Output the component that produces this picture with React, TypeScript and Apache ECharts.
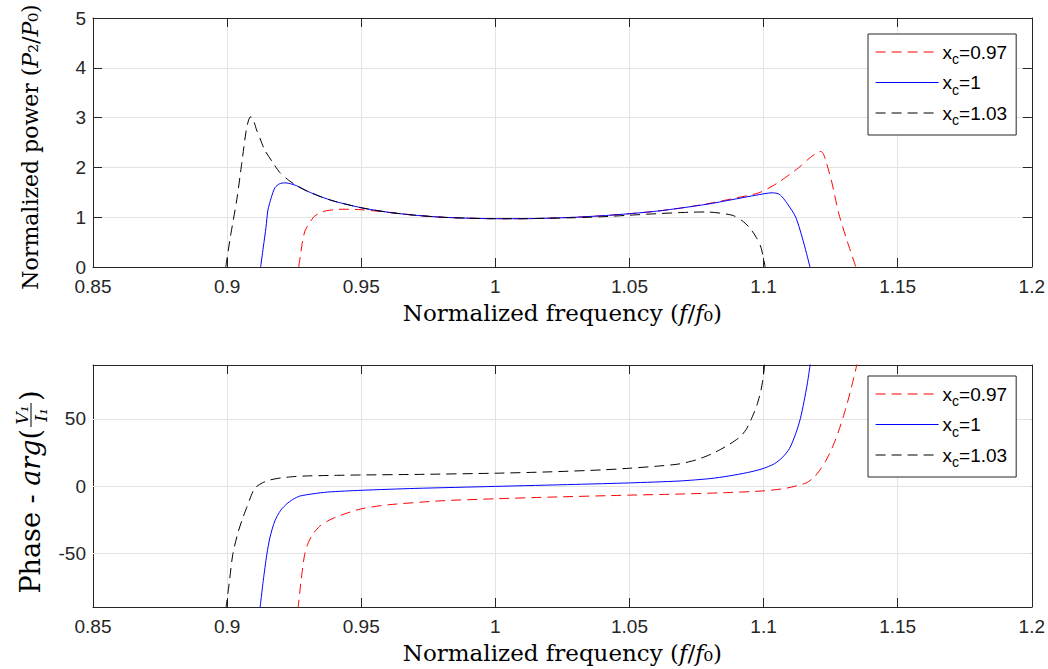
import React, { useEffect, useRef } from "react";
import * as echarts from "echarts";

// ---------- data ----------
const legendNames = ["xc=0.97", "xc=1", "xc=1.03"];
const legendLabels = ["x{sub|c}=0.97", "x{sub|c}=1", "x{sub|c}=1.03"];
const seriesColors = ["#ff0000", "#0000ff", "#000000"];
const seriesDashed = [true, false, true];
const xTicks = [0.85, 0.9, 0.95, 1, 1.05, 1.1, 1.15, 1.2];
const powerTicks = [0, 1, 2, 3, 4, 5];
const phaseTicks = [-50, 0, 50];

const power097 = [
  [0.9267, 0], [0.9275, 0.3], [0.9282, 0.54], [0.929, 0.72], [0.93, 0.82], [0.9315, 0.95],
  [0.9326, 1.02], [0.935, 1.1], [0.9371, 1.13], [0.94, 1.15], [0.9431, 1.16], [0.95, 1.15],
  [0.9632, 1.08], [0.97, 1.04], [0.98, 1.0], [0.99, 0.98], [1.0, 0.97], [1.01, 0.97],
  [1.02, 0.98], [1.03, 1.0], [1.04, 1.03], [1.05, 1.07], [1.06, 1.12], [1.07, 1.19],
  [1.08, 1.28], [1.09, 1.39], [1.0983, 1.49], [1.105, 1.68], [1.11, 1.87], [1.113, 1.99],
  [1.117, 2.18], [1.1195, 2.28], [1.1205, 2.31], [1.1214, 2.32], [1.1222, 2.28], [1.1233, 2.12],
  [1.1255, 1.69], [1.128, 1.08], [1.131, 0.55], [1.1344, 0],
];
const power100 = [
  [0.9125, 0], [0.9135, 0.4], [0.9145, 0.8], [0.9152, 1.14], [0.9165, 1.4], [0.9178, 1.59],
  [0.9195, 1.67], [0.9215, 1.69], [0.923, 1.68], [0.926, 1.63], [0.93, 1.52], [0.935, 1.41],
  [0.94, 1.32], [0.95, 1.19], [0.96, 1.1], [0.97, 1.04], [0.98, 1.0], [0.99, 0.98], [1.0, 0.97],
  [1.01, 0.97], [1.02, 0.98], [1.03, 1.0], [1.04, 1.03], [1.05, 1.07], [1.06, 1.12], [1.07, 1.19],
  [1.08, 1.27], [1.09, 1.37], [1.097, 1.44], [1.1032, 1.49], [1.1055, 1.47], [1.1069, 1.41],
  [1.109, 1.26], [1.112, 1.0], [1.115, 0.48], [1.1173, 0],
];
const power103 = [
  [0.8995, 0], [0.9012, 0.6], [0.9036, 1.35], [0.9055, 2.1], [0.907, 2.7], [0.908, 2.95],
  [0.9088, 3.02], [0.9098, 2.95], [0.911, 2.75], [0.9125, 2.55], [0.914, 2.35], [0.917, 2.1],
  [0.9196, 1.9], [0.923, 1.74], [0.926, 1.63], [0.93, 1.52], [0.935, 1.41], [0.94, 1.32],
  [0.95, 1.19], [0.96, 1.1], [0.97, 1.04], [0.98, 1.0], [0.99, 0.98], [1.0, 0.97], [1.01, 0.97],
  [1.02, 0.98], [1.03, 0.99], [1.04, 1.01], [1.05, 1.04], [1.06, 1.07], [1.07, 1.095],
  [1.0786, 1.105], [1.0883, 1.04], [1.092, 0.93], [1.0946, 0.8], [1.097, 0.62], [1.099, 0.4],
  [1.1006, 0],
];

const phase097 = [
  [0.9264, -92], [0.9276, -70], [0.9289, -51], [0.9303, -42], [0.9319, -36], [0.9345, -30],
  [0.9375, -26], [0.942, -22], [0.95, -17], [0.96, -14], [0.98, -11], [1.0, -9.5], [1.02, -8.3],
  [1.05, -6.8], [1.0685, -6], [1.085, -5], [1.0994, -3.7], [1.108, -1.8], [1.1158, 2.2],
  [1.1185, 6], [1.1207, 11], [1.123, 18], [1.1255, 28], [1.128, 41], [1.1307, 58], [1.1327, 73],
  [1.1344, 87], [1.135, 92],
];
const phase100 = [
  [0.9122, -92], [0.9135, -70], [0.9148, -51], [0.916, -38], [0.9178, -26], [0.92, -18],
  [0.9222, -13.4], [0.9245, -10], [0.9271, -7.5], [0.932, -5.8], [0.9375, -4.5], [0.95, -3.2],
  [0.97, -1.8], [1.0, -0.3], [1.03, 1.2], [1.05, 2.3], [1.0685, 3.7], [1.08, 5.5], [1.0872, 7.5],
  [1.094, 10], [1.0994, 12.7], [1.104, 16.5], [1.1069, 21], [1.1097, 28], [1.112, 39],
  [1.1137, 50], [1.1151, 63], [1.1163, 76], [1.1175, 92],
];
const phase103 = [
  [0.8995, -92], [0.9008, -72], [0.9021, -51], [0.904, -35], [0.9058, -24], [0.9073, -16],
  [0.909, -7], [0.9103, -1.5], [0.912, 1], [0.9133, 2.5], [0.916, 4.5], [0.92, 6], [0.925, 7],
  [0.93, 7.5], [0.94, 7.9], [0.95, 8.2], [0.97, 8.6], [1.0, 9.5], [1.02, 10.5], [1.04, 12],
  [1.05, 13.2], [1.06, 14.7], [1.0685, 16.4], [1.075, 19.5], [1.0808, 24], [1.086, 29.5],
  [1.0909, 36], [1.0935, 42], [1.0957, 51], [1.0975, 60], [1.099, 71], [1.0998, 80], [1.1005, 92],
];

// ---------- styling ----------
const AXIS = "#262626";
const GRIDC = "#e3e3e3";
const TICKFONT = "Liberation Sans";
const SERIF = "DejaVu Serif";
const DASH = [10, 6];

const fmtX = (v: number) => String(Math.round(v * 100) / 100);

function xAxes(gridIndex: number, nameGap: number) {
  return [
    {
      gridIndex, type: "value", min: 0.85, max: 1.2, interval: 0.05, position: "bottom",
      axisLine: { show: true, onZero: false, lineStyle: { color: AXIS, width: 1 } },
      axisTick: { show: true, inside: true, length: 9, lineStyle: { color: AXIS } },
      axisLabel: { formatter: fmtX, fontFamily: TICKFONT, fontSize: 19, color: AXIS, margin: 10 },
      splitLine: { show: true, lineStyle: { color: GRIDC, width: 1 } },
      name: "Normalized frequency ({i|f}/{i|f}₀)", nameLocation: "middle", nameGap,
      nameTextStyle: {
        fontFamily: SERIF, fontSize: 23, color: "#000",
        rich: { i: { fontStyle: "italic", fontFamily: SERIF, fontSize: 23, color: "#000" } },
      },
    },
    {
      gridIndex, type: "value", min: 0.85, max: 1.2, interval: 0.05, position: "top",
      axisLine: { show: true, onZero: false, lineStyle: { color: AXIS, width: 1 } },
      axisTick: { show: true, inside: true, length: 9, lineStyle: { color: AXIS } },
      axisLabel: { show: false }, splitLine: { show: false },
    },
  ];
}

function makeLegend(top: number, names: string[]) {
  return {
    orient: "vertical", left: 868, top, padding: [7, 9, 8, 7], itemWidth: 63, itemHeight: 15,
    itemGap: 5.5, backgroundColor: "#ffffff", borderColor: AXIS, borderWidth: 1, z: 10,
    data: names,
    itemStyle: { opacity: 0 },
    lineStyle: { width: 1.2 },
    formatter: (name: string) => legendLabels[names.indexOf(name)],
    textStyle: {
      fontFamily: TICKFONT, fontSize: 19, color: "#000", lineHeight: 22, padding: [0, 0, 0, -1],
      rich: { sub: { fontFamily: TICKFONT, fontSize: 14, color: "#000", padding: [14, 0, 0, 0] } },
    },
  };
}

function lineSeries(name: string, data: number[][], i: number, axisIdx: number) {
  const color = seriesColors[i];
  return {
    type: "line", name, data, xAxisIndex: axisIdx, yAxisIndex: axisIdx, showSymbol: false,
    symbol: "none", smooth: 0.25, z: 3, color,
    lineStyle: { color, width: 1, type: seriesDashed[i] ? DASH : "solid" },
    itemStyle: { color },
  };
}

const phaseNames = legendNames.map((n) => n + " ");

export default function App() {
  const ref = useRef<HTMLDivElement>(null);
  useEffect(() => {
    const chart = echarts.init(ref.current!, null, { renderer: "svg" });
    const option: any = {
      animation: false,
      backgroundColor: "#ffffff",
      grid: [
        { left: 93, top: 18, width: 940, height: 249 },
        { left: 93, top: 365, width: 940, height: 242 },
      ],
      xAxis: [...xAxes(0, 34), ...xAxes(1, 34)],
      yAxis: [
        {
          gridIndex: 0, type: "value", min: 0, max: 5, interval: 1, position: "left",
          axisLine: { show: true, onZero: false, lineStyle: { color: AXIS } },
          axisTick: { show: true, inside: true, length: 9, lineStyle: { color: AXIS } },
          axisLabel: { fontFamily: TICKFONT, fontSize: 19, color: AXIS, margin: 7 },
          splitLine: { show: true, lineStyle: { color: GRIDC } },
        },
        {
          gridIndex: 0, type: "value", min: 0, max: 5, interval: 1, position: "right",
          axisLine: { show: true, onZero: false, lineStyle: { color: AXIS } },
          axisTick: { show: true, inside: true, length: 9, lineStyle: { color: AXIS } },
          axisLabel: { show: false }, splitLine: { show: false },
        },
        {
          gridIndex: 1, type: "value", min: -90, max: 90, position: "left",
          axisLine: { show: true, onZero: false, lineStyle: { color: AXIS } },
          axisTick: { show: true, inside: true, length: 9, customValues: phaseTicks, lineStyle: { color: AXIS } },
          axisLabel: { fontFamily: TICKFONT, fontSize: 19, color: AXIS, margin: 7, customValues: phaseTicks },
          splitLine: { show: false },
        },
        {
          gridIndex: 1, type: "value", min: -90, max: 90, position: "right",
          axisLine: { show: true, onZero: false, lineStyle: { color: AXIS } },
          axisTick: { show: true, inside: true, length: 9, customValues: phaseTicks, lineStyle: { color: AXIS } },
          axisLabel: { show: false }, splitLine: { show: false },
        },
      ],
      legend: [makeLegend(34, legendNames), makeLegend(376, phaseNames)],
      series: [
        {
          type: "line", name: "phaseGrid", xAxisIndex: 2, yAxisIndex: 2, data: [[0.85, 0]],
          showSymbol: false, symbol: "none", z: 1, lineStyle: { opacity: 0 },
          markLine: {
            silent: true, symbol: "none", label: { show: false }, animation: false, z: 1,
            lineStyle: { color: GRIDC, type: "solid", width: 1 },
            data: phaseTicks.map((v) => ({ yAxis: v })),
          },
        },
        lineSeries(legendNames[0], power097, 0, 0),
        lineSeries(legendNames[1], power100, 1, 0),
        lineSeries(legendNames[2], power103, 2, 0),
        lineSeries(phaseNames[0], phase097, 0, 2),
        lineSeries(phaseNames[1], phase100, 1, 2),
        lineSeries(phaseNames[2], phase103, 2, 2),
      ],
      graphic: [
        {
          type: "text", x: 30, y: 147, rotation: Math.PI / 2,
          style: {
            text: "Normalized power ({i|P}₂/{i|P}₀)", fontFamily: SERIF, fontSize: 22, fill: "#000",
            align: "center", verticalAlign: "middle",
            rich: { i: { fontStyle: "italic", fontFamily: SERIF, fontSize: 22, fill: "#000" } },
          },
        },
        {
          type: "group", x: 30, y: 590, rotation: Math.PI / 2,
          children: [
            {
              type: "text", x: 161, y: 0,
              style: {
                text: "Phase - {i|arg}(", fontFamily: SERIF, fontSize: 27, fill: "#000",
                align: "right", verticalAlign: "middle",
                rich: { i: { fontStyle: "italic", fontFamily: SERIF, fontSize: 27, fill: "#000" } },
              },
            },
            {
              type: "text", x: 175, y: -8,
              style: { text: "V₁", fontFamily: SERIF, fontSize: 17, fontStyle: "italic", fill: "#000", align: "center", verticalAlign: "middle" },
            },
            {
              type: "line", shape: { x1: 163, y1: 1, x2: 187, y2: 1 },
              style: { stroke: "#000", lineWidth: 1 },
            },
            {
              type: "text", x: 175, y: 11,
              style: { text: "I₁", fontFamily: SERIF, fontSize: 17, fontStyle: "italic", fill: "#000", align: "center", verticalAlign: "middle" },
            },
            {
              type: "text", x: 189, y: 0,
              style: { text: ")", fontFamily: SERIF, fontSize: 27, fill: "#000", align: "left", verticalAlign: "middle" },
            },
          ],
        },
      ],
    };
    chart.setOption(option);
    return () => chart.dispose();
  }, []);
  return (
    <div
      ref={ref}
      style={{ position: "absolute", left: 0, top: 0, width: 1048, height: 669, background: "#fff" }}
    />
  );
}
